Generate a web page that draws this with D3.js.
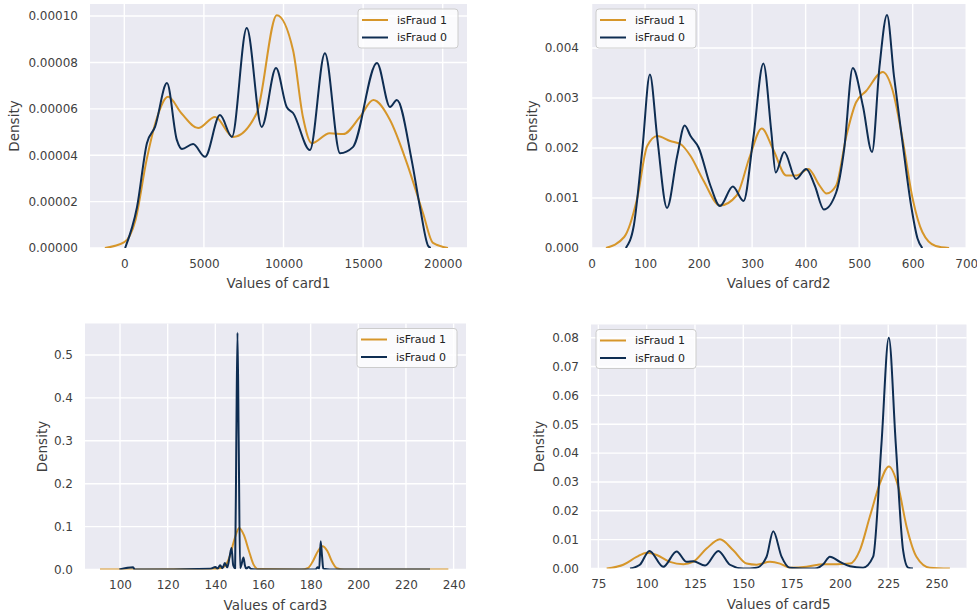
<!DOCTYPE html>
<html>
<head>
<meta charset="utf-8">
<script src="https://cdn.jsdelivr.net/npm/d3@7"></script>
<style>
  html, body { margin: 0; padding: 0; background: #ffffff; }
  svg { display: block; font-family: "DejaVu Sans", sans-serif; }
</style>
</head>
<body>
<svg id="chart" width="977" height="615"></svg>
<script>
// ---------- data ----------
const seriesNames = ["isFraud 1", "isFraud 0"];

// card1
const card1FraudX = [-1220, 0, 700, 1400, 2000, 2750, 3600, 4640, 5700, 6840, 8320, 9580, 10600, 11220, 11770, 12900, 13750, 14800, 15640, 16690, 17750, 18760, 19390, 20330];
const card1FraudY = [0, 0.0000025, 0.000012, 0.000038, 0.000055, 0.0000652, 0.000058, 0.0000517, 0.0000565, 0.0000479, 0.0000582, 0.0001004, 0.0000853, 0.0000565, 0.0000452, 0.0000495, 0.0000491, 0.0000565, 0.0000638, 0.0000552, 0.0000366, 0.0000151, 0.0000022, 0];
const card1LegitX = [50, 800, 1420, 1930, 2680, 3300, 3620, 4320, 5070, 6010, 6760, 7690, 8630, 9530, 10200, 10600, 11660, 12600, 13550, 14360, 15870, 16690, 17120, 18050, 18570, 19080, 19250];
const card1LegitY = [0, 0.0000177, 0.0000452, 0.0000522, 0.0000711, 0.0000466, 0.0000427, 0.0000448, 0.0000393, 0.0000573, 0.0000479, 0.0000948, 0.0000522, 0.0000776, 0.0000608, 0.0000582, 0.0000422, 0.000084, 0.0000409, 0.0000435, 0.0000798, 0.0000608, 0.0000638, 0.0000379, 0.0000177, 0.000001, 0];

// card2
const card2FraudX = [27, 61, 85, 104, 123, 147, 166, 185, 209, 240, 271, 296, 318, 339, 364, 383, 405, 426, 439, 457, 476, 494, 513, 544, 562, 581, 600, 618, 643, 668];
const card2FraudY = [0, 0.00022, 0.00098, 0.00204, 0.00224, 0.00214, 0.00208, 0.00184, 0.00135, 0.00085, 0.00105, 0.00184, 0.00239, 0.00198, 0.00145, 0.00145, 0.00158, 0.00125, 0.00109, 0.00125, 0.00224, 0.00291, 0.00314, 0.00352, 0.00317, 0.00218, 0.00098, 0.00032, 0.00004, 0];
const card2LegitX = [64, 79, 95, 109, 123, 141, 160, 174, 185, 200, 222, 240, 264, 284, 302, 321, 336, 344, 360, 382, 401, 417, 434, 457, 472, 488, 507, 524, 538, 552, 565, 581, 597, 609, 618];
const card2LegitY = [0, 0.00045, 0.00198, 0.00347, 0.00218, 0.0008, 0.00184, 0.00245, 0.00224, 0.00201, 0.00125, 0.00084, 0.00123, 0.00094, 0.00218, 0.00369, 0.00231, 0.00151, 0.00192, 0.00138, 0.00158, 0.00125, 0.00077, 0.00111, 0.00198, 0.0036, 0.00284, 0.00192, 0.00363, 0.00466, 0.00344, 0.00211, 0.00085, 0.00019, 0];

// card3
const card3FraudX = [91.6, 140, 144, 146, 148, 150, 152, 154, 156, 158, 176, 179, 181, 183, 185, 187, 189, 191, 194, 237.8];
const card3FraudY = [0, 0.001, 0.008, 0.03, 0.07, 0.097, 0.08, 0.045, 0.012, 0.001, 0, 0.004, 0.02, 0.042, 0.054, 0.043, 0.018, 0.003, 0, 0];
const card3LegitX = [99.7, 105.5, 106.2, 107, 138, 140, 141, 142, 143, 144, 145, 146, 146.8, 147.5, 148.3, 148.8, 149.3, 149.8, 150.4, 151, 151.8, 152.4, 153, 154, 155, 157, 182, 183, 183.6, 184.2, 184.8, 185.3, 186, 188, 230.1];
const card3LegitY = [0, 0.005, 0, 0, 0.002, 0.006, 0.002, 0.01, 0.003, 0.015, 0.005, 0.03, 0.05, 0.01, 0.003, 0.3, 0.552, 0.3, 0.003, 0.012, 0.028, 0.01, 0.002, 0.006, 0.001, 0, 0, 0.005, 0.002, 0.066, 0.03, 0.002, 0.001, 0, 0];

// card5
const card5FraudX = [79.3, 87.9, 94.8, 100, 105.2, 112, 119, 124, 131, 137.9, 144.8, 151.7, 156.9, 163.8, 169, 174, 182.7, 191.4, 198.3, 205.2, 210.3, 215.5, 220.7, 225.3, 230.2, 234.5, 239.6, 246.5, 256.9];
const card5FraudY = [0, 0.0013, 0.004, 0.0055, 0.0047, 0.0023, 0.0015, 0.0023, 0.0069, 0.0101, 0.0063, 0.0017, 0.0013, 0.0023, 0.0017, 0.0003, 0.0006, 0.0015, 0.0015, 0.0017, 0.0063, 0.018, 0.0295, 0.0354, 0.0283, 0.0145, 0.0041, 0.0003, 0];
const card5LegitX = [91.4, 96.5, 101.4, 108.6, 115.5, 120.7, 124.1, 130.2, 137.1, 143.1, 150, 156.9, 162, 165.5, 169.8, 174, 187, 191.4, 194.8, 200, 205.2, 212, 217.2, 221.5, 225.3, 228.9, 232.7, 235.3, 237.8];
const card5LegitY = [0, 0.0013, 0.0061, 0.0006, 0.0059, 0.0023, 0.0025, 0.001, 0.0061, 0.0013, 0, 0.0003, 0.004, 0.0129, 0.0041, 0.0003, 0, 0.0015, 0.0041, 0.0023, 0.0008, 0.0003, 0.0041, 0.0432, 0.08, 0.0432, 0.0063, 0.0003, 0];

// tick values
const card1XTicks = [0, 5000, 10000, 15000, 20000];
const card1YTicks = [0, 0.00002, 0.00004, 0.00006, 0.00008, 0.0001];
const card2XTicks = [0, 100, 200, 300, 400, 500, 600, 700];
const card2YTicks = [0, 0.001, 0.002, 0.003, 0.004];
const card3XTicks = [100, 120, 140, 160, 180, 200, 220, 240];
const card3YTicks = [0, 0.1, 0.2, 0.3, 0.4, 0.5];
const card5XTicks = [75, 100, 125, 150, 175, 200, 225, 250];
const card5YTicks = [0, 0.01, 0.02, 0.03, 0.04, 0.05, 0.06, 0.07, 0.08];

// ---------- drawing ----------
const colors = ["#d6962a", "#0e2d52"];
const svg = d3.select("#chart");

const panels = [
  { id: "p1", label: "Values of card1", box: [90, 467, 4, 248], xd: [-2155, 21526], yd: [0, 0.0001052],
    xt: card1XTicks, yt: card1YTicks, yf: d3.format(".5f"), legend: "right",
    series: [[card1FraudX, card1FraudY], [card1LegitX, card1LegitY]], ylabX: 14 },
  { id: "p2", label: "Values of card2", box: [591, 966.5, 4, 248], xd: [-1, 700.5], yd: [0, 0.00488],
    xt: card2XTicks, yt: card2YTicks, yf: d3.format(".3f"), legend: "left",
    series: [[card2FraudX, card2FraudY], [card2LegitX, card2LegitY]], ylabX: 532 },
  { id: "p3", label: "Values of card3", box: [85, 466, 323.5, 569.5], xd: [85.3, 245.2], yd: [0, 0.5734],
    xt: card3XTicks, yt: card3YTicks, yf: d3.format(".1f"), legend: "right",
    series: [[card3FraudX, card3FraudY], [card3LegitX, card3LegitY]], ylabX: 42 },
  { id: "p4", label: "Values of card5", box: [591, 966.5, 324.5, 568.5], xd: [71.2, 265.5], yd: [0, 0.08458],
    xt: card5XTicks, yt: card5YTicks, yf: d3.format(".2f"), legend: "left",
    series: [[card5FraudX, card5FraudY], [card5LegitX, card5LegitY]], ylabX: 539 }
];

panels.forEach(p => {
  const [L, R, T, B] = p.box;
  const x = d3.scaleLinear().domain(p.xd).range([L, R]);
  const y = d3.scaleLinear().domain(p.yd).range([B, T]);
  const g = svg.append("g");

  g.append("rect").attr("x", L).attr("y", T).attr("width", R - L).attr("height", B - T).attr("fill", "#eaeaf2");

  g.append("clipPath").attr("id", "clip-" + p.id)
    .append("rect").attr("x", L).attr("y", T).attr("width", R - L).attr("height", B - T);

  // grid
  g.selectAll(".vg").data(p.xt).join("line")
    .attr("x1", d => x(d)).attr("x2", d => x(d)).attr("y1", T).attr("y2", B)
    .attr("stroke", "#ffffff").attr("stroke-width", 1.4);
  g.selectAll(".hg").data(p.yt).join("line")
    .attr("x1", L).attr("x2", R).attr("y1", d => y(d)).attr("y2", d => y(d))
    .attr("stroke", "#ffffff").attr("stroke-width", 1.4);

  // axes (labels only, seaborn darkgrid style)
  const xa = g.append("g").attr("transform", `translate(0,${B})`)
    .call(d3.axisBottom(x).tickValues(p.xt).tickSize(0).tickPadding(11).tickFormat(d3.format("d")));
  const ya = g.append("g").attr("transform", `translate(${L},0)`)
    .call(d3.axisLeft(y).tickValues(p.yt).tickSize(0).tickPadding(12).tickFormat(p.yf));
  [xa, ya].forEach(a => {
    a.select(".domain").remove();
    a.selectAll("text").attr("fill", "#3f3f3f").style("font-size", "12px").style("font-family", "DejaVu Sans");
  });

  // axis titles
  g.append("text").attr("x", (L + R) / 2).attr("y", B + 40).attr("text-anchor", "middle")
    .attr("fill", "#3f3f3f").style("font-size", "13.5px").text(p.label);
  g.append("text").attr("transform", `translate(${p.ylabX},${(T + B) / 2}) rotate(-90)`)
    .attr("text-anchor", "middle").attr("dominant-baseline", "central")
    .attr("fill", "#3f3f3f").style("font-size", "13.5px").text("Density");

  // lines
  const line = d3.line().curve(d3.curveMonotoneX).x(d => x(d[0])).y(d => y(d[1]));
  p.series.forEach((s, i) => {
    const pts = s[0].map((v, k) => [v, s[1][k]]);
    g.append("path").attr("d", line(pts)).attr("fill", "none")
      .attr("stroke", colors[i]).attr("stroke-width", 2).attr("stroke-linejoin", "round")
      .attr("clip-path", `url(#clip-${p.id})`);
  });

  // legend
  const lw = 100, lh = 39;
  const lx = p.legend === "right" ? R - 9 - lw : L + 5;
  const ly = T + 5;
  const lg = g.append("g").attr("transform", `translate(${lx},${ly})`);
  lg.append("rect").attr("width", lw).attr("height", lh).attr("rx", 3)
    .attr("fill", "#ffffff").attr("fill-opacity", 0.8).attr("stroke", "#cccccc").attr("stroke-width", 1);
  seriesNames.forEach((n, i) => {
    const yy = 11 + i * 17.5;
    lg.append("line").attr("x1", 4).attr("x2", 30).attr("y1", yy).attr("y2", yy)
      .attr("stroke", colors[i]).attr("stroke-width", 2);
    lg.append("text").attr("x", 39).attr("y", yy).attr("dominant-baseline", "central")
      .attr("fill", "#222").style("font-size", "11px").text(n);
  });
});
</script>
</body>
</html>
